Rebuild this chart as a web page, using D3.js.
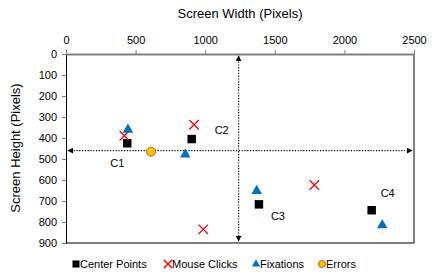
<!DOCTYPE html>
<html><head><meta charset="utf-8">
<script src="https://cdn.jsdelivr.net/npm/d3@7"></script>
<style>body{margin:0;background:#fff}svg{display:block;font-family:"Liberation Sans",Arial,sans-serif}</style>
</head><body>
<script>
const xTicks = [0, 500, 1000, 1500, 2000, 2500];
const yTicks = [0, 100, 200, 300, 400, 500, 600, 700, 800, 900];
const centerNames = ["C1", "C2", "C3", "C4"];
const centerX = [440, 903, 1386, 2196];
const centerY = [425, 405, 716, 744];
const clickX = [419, 920, 986, 1784];
const clickY = [389, 337, 835, 624];
const fixX = [445, 857, 1370, 2272];
const fixY = [360, 478, 652, 815];
const errorX = [611];
const errorY = [465];
const splitX = 1240;
const splitY = 460;
const legendNames = ["Center Points", "Mouse Clicks", "Fixations", "Errors"];

const W = 432, H = 275;
const svg = d3.select("body").append("svg").attr("width", W).attr("height", H);
const x = d3.scaleLinear().domain([0, 2500]).range([66, 414]);
const y = d3.scaleLinear().domain([0, 900]).range([54, 243]);
const fmt = d3.format("d");

// axis titles
svg.append("text").attr("x", 240).attr("y", 18).attr("text-anchor", "middle")
  .attr("font-size", 13).attr("fill", "#000").text("Screen Width (Pixels)");
svg.append("text").attr("transform", "translate(20,148) rotate(-90)").attr("text-anchor", "middle")
  .attr("font-size", 13).attr("fill", "#000").text("Screen Height (Pixels)");

// bottom gray line and right border
svg.append("line").attr("x1", x(0)).attr("x2", x(2500)).attr("y1", y(900)).attr("y2", y(900))
  .attr("stroke", "#808080").attr("stroke-width", 2);
svg.append("line").attr("x1", x(2500)).attr("x2", x(2500)).attr("y1", y(0)).attr("y2", y(900))
  .attr("stroke", "#000").attr("stroke-width", 1);

// left axis
const gy = svg.append("g").attr("transform", `translate(${x(0)},0)`)
  .call(d3.axisLeft(y).tickValues(yTicks).tickFormat(fmt).tickSize(4).tickSizeOuter(0).tickPadding(5));
gy.select(".domain").attr("stroke", "#000").attr("stroke-width", 1);
gy.selectAll(".tick line").attr("stroke", "#808080");
gy.selectAll(".tick text").attr("font-size", 11).attr("fill", "#000").attr("font-family", "Liberation Sans, Arial, sans-serif");

// top axis
const gx = svg.append("g").attr("transform", `translate(0,${y(0)})`)
  .call(d3.axisTop(x).tickValues(xTicks).tickFormat(fmt).tickSize(4).tickSizeOuter(0).tickPadding(6));
gx.select(".domain").attr("stroke", "#808080").attr("stroke-width", 2);
gx.selectAll(".tick line").attr("stroke", "#808080");
gx.selectAll(".tick text").attr("font-size", 11).attr("fill", "#000").attr("font-family", "Liberation Sans, Arial, sans-serif");

// arrow markers
const defs = svg.append("defs");
defs.append("marker").attr("id", "arr").attr("viewBox", "0 0 10 10").attr("refX", 9).attr("refY", 5)
  .attr("markerWidth", 6).attr("markerHeight", 6).attr("markerUnits", "userSpaceOnUse").attr("orient", "auto-start-reverse")
  .append("path").attr("d", "M0,0 L10,5 L0,10 Z").attr("fill", "#000");

svg.append("line").attr("x1", x(0) + 2).attr("x2", x(2500) - 2).attr("y1", y(splitY)).attr("y2", y(splitY))
  .attr("stroke", "#000").attr("stroke-width", 1.2).attr("stroke-dasharray", "1.2,1.6")
  .attr("marker-start", "url(#arr)").attr("marker-end", "url(#arr)");
svg.append("line").attr("x1", x(splitX)).attr("x2", x(splitX)).attr("y1", y(0) + 2).attr("y2", y(900) - 2)
  .attr("stroke", "#000").attr("stroke-width", 1.2).attr("stroke-dasharray", "1.2,1.6")
  .attr("marker-start", "url(#arr)").attr("marker-end", "url(#arr)");

const sq = d3.symbol().type(d3.symbolSquare).size(72);
const tri = d3.symbol().type(d3.symbolTriangle).size(48);
const cross = d3.symbol().type(d3.symbolX).size(60);

// center points
svg.append("g").selectAll("path").data(centerX).join("path")
  .attr("transform", (d, i) => `translate(${x(d)},${y(centerY[i])})`)
  .attr("d", sq).attr("fill", "#000");
// mouse clicks
svg.append("g").selectAll("path").data(clickX).join("path")
  .attr("transform", (d, i) => `translate(${x(d)},${y(clickY[i])})`)
  .attr("d", cross).attr("fill", "none").attr("stroke", "#FF0000").attr("stroke-width", 1.3);
// fixations
svg.append("g").selectAll("path").data(fixX).join("path")
  .attr("transform", (d, i) => `translate(${x(d)},${y(fixY[i])})`)
  .attr("d", tri).attr("fill", "#0070C0");
// errors
svg.append("g").selectAll("circle").data(errorX).join("circle")
  .attr("cx", d => x(d)).attr("cy", (d, i) => y(errorY[i])).attr("r", 4.5)
  .attr("fill", "#FFC000").attr("stroke", "#7F6000").attr("stroke-width", 0.8);

// center labels
const labelOffsets = [[-10, 20], [30, -9], [19, 12], [16, -17]];
svg.append("g").selectAll("text").data(centerNames).join("text")
  .attr("x", (d, i) => x(centerX[i]) + labelOffsets[i][0])
  .attr("y", (d, i) => y(centerY[i]) + labelOffsets[i][1] + 4)
  .attr("text-anchor", "middle").attr("font-size", 11).attr("fill", "#000").text(d => d);

// legend
const leg = svg.append("g").attr("font-size", 11);
const lx = [76, 168, 256, 322];
const ly = 264;
leg.append("path").attr("d", d3.symbol().type(d3.symbolSquare).size(50)).attr("transform", `translate(${lx[0]},${ly})`).attr("fill", "#000");
leg.append("path").attr("d", d3.symbol().type(d3.symbolX).size(50)).attr("transform", `translate(${lx[1]},${ly})`).attr("stroke", "#FF0000").attr("stroke-width", 1.4).attr("fill", "none");
leg.append("path").attr("d", d3.symbol().type(d3.symbolTriangle).size(30)).attr("transform", `translate(${lx[2]},${ly})`).attr("fill", "#0070C0");
leg.append("circle").attr("cx", lx[3]).attr("cy", ly).attr("r", 3.5).attr("fill", "#FFC000").attr("stroke", "#7F6000").attr("stroke-width", 0.8);
leg.selectAll("text").data(legendNames).join("text")
  .attr("x", (d, i) => lx[i] + 4).attr("y", ly + 4).attr("fill", "#000").text(d => d);
</script>
</body></html>
